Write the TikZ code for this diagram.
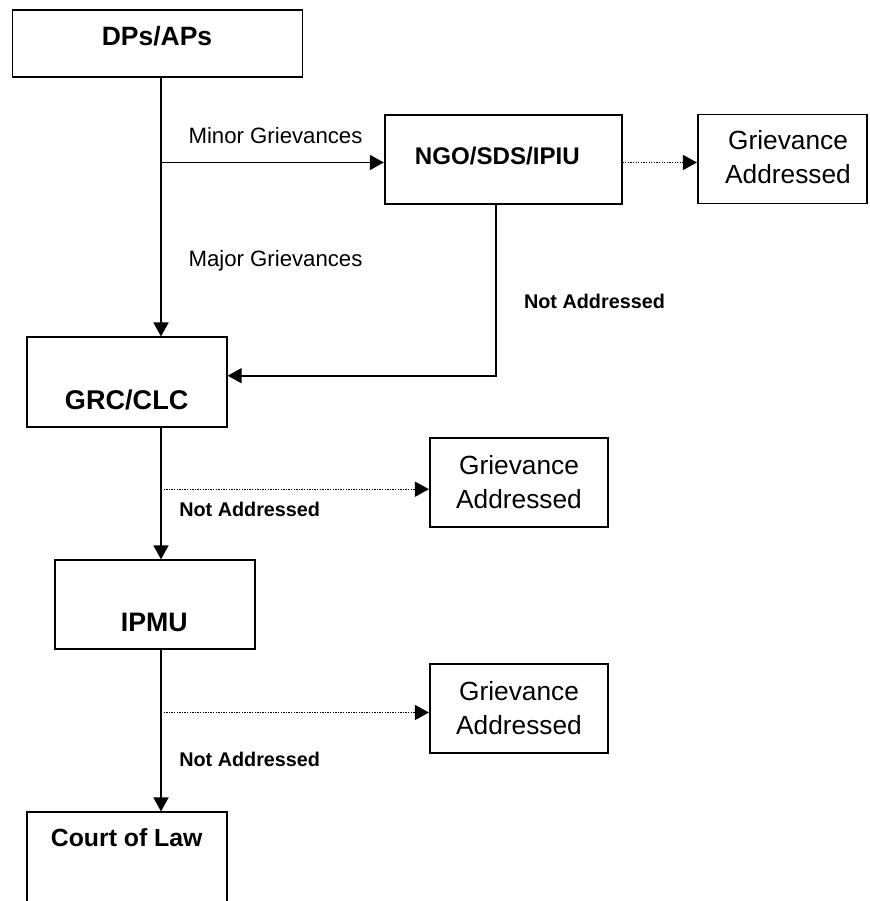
\documentclass[tikz,border=0pt]{standalone}
\usepackage{fontspec}
\setmainfont{Liberation Sans}
\usetikzlibrary{arrows.meta}
\begin{document}
\begin{tikzpicture}[x=1pt,y=-1pt,
  box/.style={draw, line width=1.7pt, rectangle, inner sep=0pt},
  lbl/.style={inner sep=0pt, anchor=base},
  bold/.style={lbl, font=\fontsize{#1}{#1}\selectfont\bfseries},
  plain/.style={lbl, font=\fontsize{#1}{#1}\selectfont},
  galbl/.style={inner sep=0pt, anchor=base, align=center, font=\fontsize{26.3}{34}\selectfont},
  conn/.style={line width=1.7pt, -{Triangle[length=14pt,width=15pt]}},
  dotc/.style={line width=1.3pt, dash pattern=on 1.3pt off 1.3pt, -{Triangle[length=14pt,width=15pt]}}
]
\useasboundingbox (0,0) rectangle (869,901);
\clip (0,0) rectangle (869,901);

% boxes
\node[box, minimum width=290pt, minimum height=67pt] (dp) at (157.5,43.5) {};
\node[box, minimum width=237pt, minimum height=89pt] (ngo) at (503.2,159.2) {};
\node[box, minimum width=169pt, minimum height=89pt] (ga1) at (782.3,159) {};
\node[box, minimum width=200pt, minimum height=90pt] (grc) at (126.8,382.3) {};
\node[box, minimum width=178pt, minimum height=89pt] (ga2) at (518.8,482.7) {};
\node[box, minimum width=200pt, minimum height=89pt] (ipmu) at (155,604.7) {};
\node[box, minimum width=178pt, minimum height=89pt] (ga3) at (518.8,708.7) {};
\node[box, minimum width=200pt, minimum height=90pt] (court) at (127,857.3) {};

% box texts
\node[bold=26.5] (dpt) at (157,45.7) {DPs/APs};
\node[bold=24.1] (ngot) at (497.3,165) {NGO/SDS/IPIU};
\node[galbl] (ga1t) at (788,183.3) {Grievance\\Addressed};
\node[bold=27.1] (grct) at (126.7,409.3) {GRC/CLC};
\node[galbl] (ga2t) at (519,508.3) {Grievance\\Addressed};
\node[bold=26.7] (ipmut) at (154.3,631.7) {IPMU};
\node[galbl] (ga3t) at (519,734) {Grievance\\Addressed};
\node[bold=24.8] (courtt) at (126.7,846.7) {Court of Law};

% edge labels
\node[plain=22.2] (minor) at (275.5,144) {Minor Grievances};
\node[plain=22.2] (major) at (275.5,266.5) {Major Grievances};
\node[bold=19.8] (na1) at (594.5,308.3) {Not Addressed};
\node[bold=19.8] (na2) at (249.7,516.7) {Not Addressed};
\node[bold=19.8] (na3) at (249.7,766.7) {Not Addressed};

% junctions
\coordinate (b1) at (161,162.5);
\coordinate (b2) at (496.3,375.7);
\coordinate (b3) at (161,489.2);
\coordinate (b4) at (161,712.5);

% connectors
\draw[conn] (dp.south -| b1) -- (grc.north -| b1);
\draw[conn] (b1) -- (ngo.west |- b1);
\draw[dotc] (ngo.east |- b1) -- (ga1.west |- b1);
\draw[conn] (ngo.south -| b2) -- (b2) -- (grc.east |- b2);
\draw[conn] (grc.south -| b3) -- (ipmu.north -| b3);
\draw[dotc] (b3) -- (ga2.west |- b3);
\draw[conn] (ipmu.south -| b4) -- (court.north -| b4);
\draw[dotc] (b4) -- (ga3.west |- b4);
\end{tikzpicture}
\end{document}
